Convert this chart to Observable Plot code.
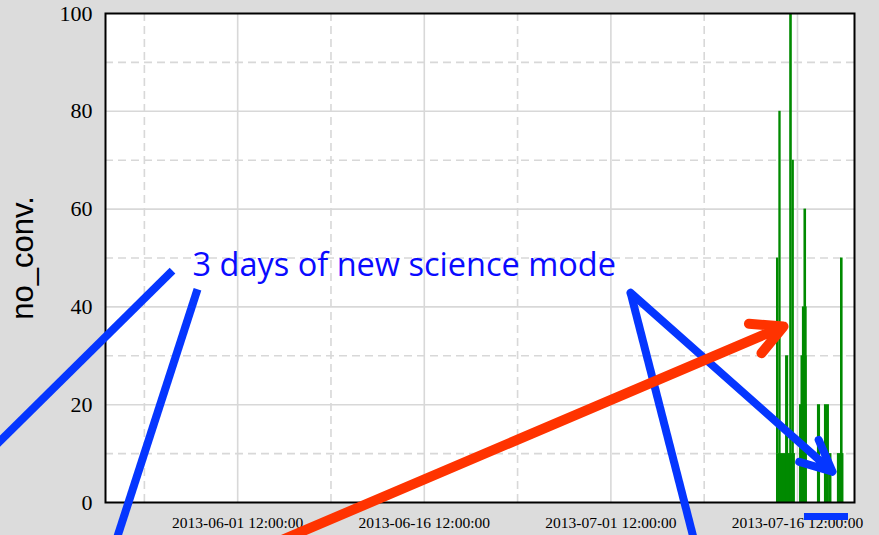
<!DOCTYPE html>
<html><head><meta charset="utf-8">
<script src="https://cdn.jsdelivr.net/npm/d3@7"></script>
<script src="https://cdn.jsdelivr.net/npm/@observablehq/plot@0.6"></script>
<style>
html,body{margin:0;padding:0;background:#dcdcdc;color:#000;}
#chart svg{display:block;}
</style></head><body><div id="chart"></div>
<script>
// ---- data ----
const barStart = ["2013-07-14T19:30Z","2013-07-14T19:30Z","2013-07-15T00:00Z","2013-07-15T13:00Z","2013-07-15T21:00Z","2013-07-16T02:00Z","2013-07-16T16:00Z","2013-07-16T18:45Z","2013-07-16T21:30Z","2013-07-17T00:30Z","2013-07-18T02:30Z","2013-07-18T16:00Z","2013-07-19T01:40Z","2013-07-19T17:00Z","2013-07-19T23:00Z"];
const barEnd   = ["2013-07-16T08:00Z","2013-07-15T00:00Z","2013-07-15T04:30Z","2013-07-15T19:00Z","2013-07-16T02:00Z","2013-07-16T06:00Z","2013-07-17T06:40Z","2013-07-17T06:40Z","2013-07-17T06:40Z","2013-07-17T05:30Z","2013-07-18T08:30Z","2013-07-19T01:40Z","2013-07-19T06:30Z","2013-07-20T05:40Z","2013-07-20T04:00Z"];
const barValue = [10,40,80,30,100,70,20,30,40,60,20,20,10,10,50];

const xDomain = ["2013-05-21T21:00Z","2013-07-21T02:00Z"];
const xMajorTicks = ["2013-06-01T12:00Z","2013-06-16T12:00Z","2013-07-01T12:00Z","2013-07-16T12:00Z"];
const xMinorTicks = ["2013-05-25T00:00Z","2013-06-09T00:00Z","2013-06-24T00:00Z","2013-07-09T00:00Z"];
const yTicks = [0,20,40,60,80,100];
const yMajorGrid = [20,40,60,80];
const yMinorGrid = [10,30,50,70,90];
const yLabel = "no_conv.";

// annotations (data coordinates)
const noteText = ["3 days of new science mode"];
const noteX = ["2013-05-28T21:00Z"];
const noteY = [46.4];
const blueLineX1 = ["2013-05-27T06:15Z","2013-05-29T06:30Z","2013-07-03T02:00Z"];
const blueLineY1 = [47.4, 43.6, 42.9];
const blueLineX2 = ["2013-05-12T15:00Z","2013-05-22T14:24Z","2013-07-08T07:12Z"];
const blueLineY2 = [10.6, -8.8, -8.8];
const blueArrowX = ["2013-07-03T02:00Z","2013-07-19T07:30Z"];
const blueArrowY = [42.9, 6.3];
const redArrowX = ["2013-06-04T22:36Z","2013-07-15T09:00Z"];
const redArrowY = [-7.8, 36];
const blueMarkX = ["2013-07-17T01:30Z","2013-07-20T14:24Z"];
const blueMarkY = [-2.25, -3.68];

const D = s => new Date(s);
const bars = barValue.map((v,i) => ({x1: D(barStart[i]), x2: D(barEnd[i]), y: v}));
const blueLines = blueLineY1.map((v,i) => ({x1: D(blueLineX1[i]), y1: v, x2: D(blueLineX2[i]), y2: blueLineY2[i]}));

const gridColor = "#d8d8d8";
const blue = "#0536ff";
const fmt = d3.utcFormat("%Y-%m-%d %H:%M:%S");

const chart = Plot.plot({
  width: 879, height: 535,
  marginLeft: 105, marginRight: 25, marginTop: 13, marginBottom: 33,
  style: {background: "#dcdcdc", overflow: "visible"},
  x: {type: "utc", domain: xDomain.map(D)},
  y: {domain: [0, 100]},
  marks: [
    Plot.frame({fill: "white"}),
    Plot.ruleY(yMinorGrid, {stroke: gridColor, strokeWidth: 1.6, strokeDasharray: "8,5"}),
    Plot.ruleX(xMinorTicks.map(D), {stroke: gridColor, strokeWidth: 1.6, strokeDasharray: "8,5"}),
    Plot.ruleY(yMajorGrid, {stroke: gridColor, strokeWidth: 1.6}),
    Plot.ruleX(xMajorTicks.map(D), {stroke: gridColor, strokeWidth: 1.6}),
    Plot.rectY(bars, {x1: "x1", x2: "x2", y: "y", fill: "#008a00"}),
    Plot.frame({stroke: "black", strokeWidth: 2}),
    Plot.axisY({ticks: yTicks, tickSize: 0, tickPadding: 13, fontSize: 22, fontFamily: "Liberation Serif", label: null}),
    Plot.axisX({ticks: xMajorTicks.map(D), tickFormat: fmt, tickSize: 0, tickPadding: 14, fontSize: 15.5, fontFamily: "Liberation Serif", label: null}),
    Plot.text([yLabel], {frameAnchor: "left", dx: -82, rotate: -90, fontSize: 31, fontFamily: "Liberation Sans", textAnchor: "middle", lineAnchor: "middle", fill: "black"}),
    Plot.text(noteText, {x: noteX.map(D), y: noteY, textAnchor: "start", lineAnchor: "bottom", fontSize: 32.5, fontFamily: "Open Sans", fill: "#0a0aff"}),
    Plot.link(blueLines, {x1: "x1", y1: "y1", x2: "x2", y2: "y2", stroke: blue, strokeWidth: 8}),
    Plot.arrow([0], {x1: [D(blueArrowX[0])], y1: [blueArrowY[0]], x2: [D(blueArrowX[1])], y2: [blueArrowY[1]], stroke: blue, strokeWidth: 8, headLength: 6.5, headAngle: 50}),
    Plot.arrow([0], {x1: [D(redArrowX[0])], y1: [redArrowY[0]], x2: [D(redArrowX[1])], y2: [redArrowY[1]], stroke: "#ff3300", strokeWidth: 10, headLength: 5.2, headAngle: 55}),
    Plot.rect([0], {x1: [D(blueMarkX[0])], y1: [blueMarkY[0]], x2: [D(blueMarkX[1])], y2: [blueMarkY[1]], fill: blue})
  ]
});
document.getElementById("chart").appendChild(chart);
</script>
</body></html>
